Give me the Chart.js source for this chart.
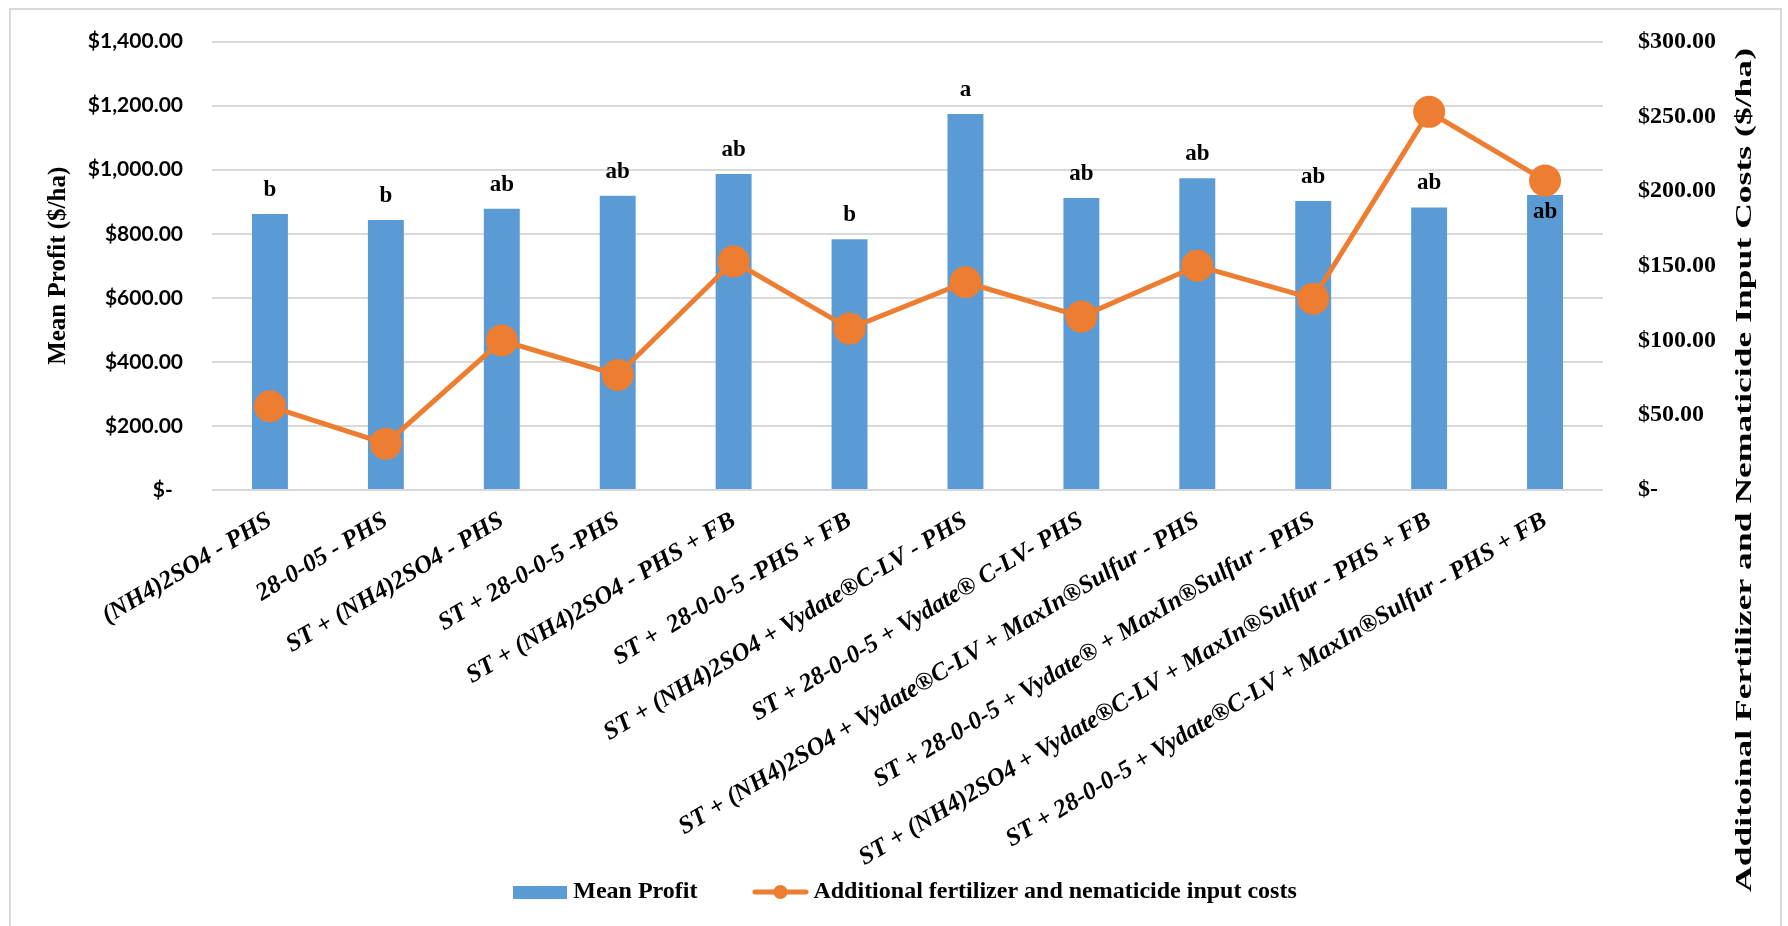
<!DOCTYPE html>
<html>
<head>
<meta charset="utf-8">
<script src="https://cdn.jsdelivr.net/npm/chart.js@4.4.1/dist/chart.umd.min.js"></script>
<style>
  html, body { margin: 0; padding: 0; background: #fff; }
  canvas { display: block; }
</style>
</head>
<body>
<canvas id="canvas" width="1788" height="926"></canvas>
<script>
// treatments on the x axis
const categories = [
    '(NH4)2SO4 - PHS',
    '28-0-05 - PHS',
    'ST + (NH4)2SO4 - PHS',
    'ST + 28-0-0-5 -PHS',
    'ST + (NH4)2SO4 - PHS + FB',
    'ST +  28-0-0-5 -PHS + FB',
    'ST + (NH4)2SO4 + Vydate®C-LV - PHS',
    'ST + 28-0-0-5 + Vydate® C-LV- PHS',
    'ST + (NH4)2SO4 + Vydate®C-LV + MaxIn®Sulfur - PHS',
    'ST + 28-0-0-5 + Vydate® + MaxIn®Sulfur - PHS',
    'ST + (NH4)2SO4 + Vydate®C-LV + MaxIn®Sulfur - PHS + FB',
    'ST + 28-0-0-5 + Vydate®C-LV + MaxIn®Sulfur - PHS + FB'
];
const meanProfit = [862, 843, 878, 919, 987, 783, 1174, 912, 973, 902, 882, 921];
const inputCosts = [56, 31, 100, 77, 153, 108, 139, 116, 150, 128, 253, 207];
const sigLetters = ['b', 'b', 'ab', 'ab', 'ab', 'b', 'a', 'ab', 'ab', 'ab', 'ab', 'ab'];
const profitTicks = ['$-  ', '$200.00', '$400.00', '$600.00', '$800.00', '$1,000.00', '$1,200.00', '$1,400.00'];
const costTicks = ['$-', '$50.00', '$100.00', '$150.00', '$200.00', '$250.00', '$300.00'];
const rightTitleText = 'Additoinal Fertilizer and Nematicide Input Costs ($/ha)';

const blue = '#5b9bd5';
const orange = '#ed7d31';
const serif = 'Liberation Serif';

function makeIcon(w, h, draw){
    const cv = document.createElement('canvas');
    cv.width = w;
    cv.height = h;
    draw(cv.getContext('2d'));
    return cv;
}
const barIcon = makeIcon(54, 13, g => {
    g.fillStyle = blue;
    g.fillRect(0, 0, 54, 13);
});
const lineIcon = makeIcon(57, 16, g => {
    g.strokeStyle = orange;
    g.lineWidth = 5;
    g.lineCap = 'round';
    g.beginPath();
    g.moveTo(3, 8);
    g.lineTo(54, 8);
    g.stroke();
    g.fillStyle = orange;
    g.beginPath();
    g.arc(28.5, 8, 7, 0, Math.PI * 2);
    g.fill();
});

// white background + light frame like the excel chart area
const frame = {
    id: 'frame',
    beforeDraw(chart){
        const c = chart.ctx;
        c.save();
        c.fillStyle = '#fff';
        c.fillRect(0, 0, chart.width, chart.height);
        c.strokeStyle = '#d9d9d9';
        c.lineWidth = 2;
        c.strokeRect(10, 9, 1771, 940);
        c.restore();
    }
};

// long rotated labels run past the axis box, so don't clip them there
const labelRoom = {
    id: 'labelRoom',
    afterLayout(chart){
        chart.scales.x.bottom = chart.height;
    }
};

// significance letters over the bars
const letters = {
    id: 'letters',
    afterDatasetsDraw(chart){
        const c = chart.ctx;
        const bars = chart.getDatasetMeta(0).data;
        c.save();
        c.font = 'bold 23px "' + serif + '"';
        c.fillStyle = '#000';
        c.textAlign = 'center';
        c.textBaseline = 'middle';
        bars.forEach((bar, i) => {
            const dy = i === bars.length - 1 ? 17 : -24;
            c.fillText(sigLetters[i], bar.x, bar.y + dy);
        });
        c.restore();
    }
};

// right axis title (stretched like in the source figure)
const rightTitle = {
    id: 'rightTitle',
    afterDraw(chart){
        const c = chart.ctx;
        c.save();
        c.font = 'bold 23px "' + serif + '"';
        const k = 844 / c.measureText(rightTitleText).width;
        c.translate(chart.scales.y2.right - 36, 470);
        c.rotate(-Math.PI / 2);
        c.scale(k, 1);
        c.fillStyle = '#000';
        c.textAlign = 'center';
        c.textBaseline = 'middle';
        c.fillText(rightTitleText, 0, 0);
        c.restore();
    }
};

const ctx = document.getElementById('canvas').getContext('2d');
const myChart = new Chart(ctx, {
    type: 'bar',
    data: {
        labels: categories,
        datasets: [{
            type: 'bar',
            label: 'Mean Profit',
            data: meanProfit,
            backgroundColor: blue,
            yAxisID: 'y',
            barPercentage: 0.31,
            categoryPercentage: 1,
            order: 2
        }, {
            type: 'line',
            label: 'Additional fertilizer and nematicide input costs',
            data: inputCosts,
            borderColor: orange,
            backgroundColor: orange,
            borderWidth: 5,
            pointRadius: 16,
            pointBorderWidth: 0,
            pointBackgroundColor: orange,
            tension: 0,
            yAxisID: 'y2',
            order: 1
        }]
    },
    options: {
        responsive: false,
        animation: false,
        devicePixelRatio: 1,
        layout: {
            padding: { left: 35, right: 7, top: 23, bottom: 12 }
        },
        plugins: {
            tooltip: { enabled: false },
            legend: {
                position: 'bottom',
                labels: {
                    usePointStyle: true,
                    pointStyleWidth: 42,
                    padding: 62,
                    color: '#000',
                    font: { family: serif, weight: 'bold', size: 24 },
                    generateLabels: chart => chart.data.datasets.map((ds, i) => ({
                        text: ds.label,
                        pointStyle: i === 0 ? barIcon : lineIcon,
                        fillStyle: ds.backgroundColor,
                        strokeStyle: ds.backgroundColor,
                        lineWidth: 0,
                        fontColor: '#000',
                        hidden: false,
                        datasetIndex: i
                    }))
                }
            }
        },
        scales: {
            x: {
                grid: { display: false },
                border: { display: false },
                ticks: {
                    autoSkip: false,
                    minRotation: 31,
                    maxRotation: 31,
                    padding: 8,
                    color: '#000',
                    font: { family: serif, style: 'italic', weight: 'bold', size: 25 }
                },
                afterFit: s => { s.height = 328; }
            },
            y: {
                position: 'left',
                min: 0,
                max: 1400,
                ticks: {
                    stepSize: 200,
                    padding: 29,
                    color: '#000',
                    font: { family: 'Lato', weight: 'bold', size: 21 },
                    callback: (v, i) => profitTicks[i]
                },
                grid: { color: '#d9d9d9', lineWidth: 2, drawTicks: false },
                border: { display: false },
                title: {
                    display: true,
                    text: 'Mean Profit ($/ha)',
                    color: '#000',
                    font: { family: serif, weight: 'bold', size: 25 },
                    padding: { top: 9, bottom: 0 }
                },
                afterFit: s => { s.width = 177; }
            },
            y2: {
                position: 'right',
                min: 0,
                max: 300,
                ticks: {
                    stepSize: 50,
                    padding: 27,
                    color: '#000',
                    font: { family: serif, weight: 'bold', size: 24 },
                    callback: (v, i) => costTicks[i]
                },
                grid: { display: false },
                border: { display: false },
                afterFit: s => { s.width = 178; }
            }
        }
    },
    plugins: [frame, labelRoom, letters, rightTitle]
});
</script>
</body>
</html>
